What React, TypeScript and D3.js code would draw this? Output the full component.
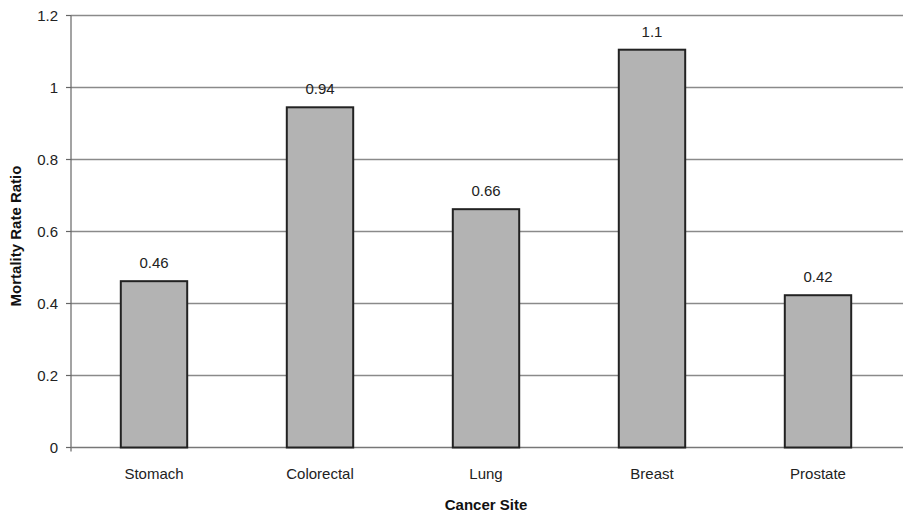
import React from "react";
import * as d3 from "d3";

const categories = ["Stomach", "Colorectal", "Lung", "Breast", "Prostate"];
const values = [0.462, 0.945, 0.662, 1.105, 0.423];
const valueLabels = ["0.46", "0.94", "0.66", "1.1", "0.42"];
const yTicks = [0, 0.2, 0.4, 0.6, 0.8, 1, 1.2];
const yTickLabels = ["0", "0.2", "0.4", "0.6", "0.8", "1", "1.2"];

export default function App() {
  const W = 903, H = 514;
  const left = 71, right = 901, top = 15.5, bottom = 447.5;
  const x = d3.scaleBand().domain(categories).range([left, right]).paddingInner(0.6).paddingOuter(0.3);
  const y = d3.scaleLinear().domain([0, 1.2]).range([bottom, top]);
  const font = "'Liberation Sans', Arial, sans-serif";
  const fs = 15;
  return (
    <svg width={W} height={H} style={{ position: "absolute", left: 0, top: 0 }} fontFamily={font}>
      <rect width={W} height={H} fill="#fff" />
      {yTicks.map((t, i) => (
        <g key={i}>
          {i > 0 && <line x1={left} x2={W} y1={y(t)} y2={y(t)} stroke="#8a8a8a" strokeWidth={1.5} />}
          <line x1={left - 5} x2={left} y1={y(t)} y2={y(t)} stroke="#666" strokeWidth={1.2} />
          <text x={left - 13} y={y(t)} dy="0.36em" textAnchor="end" fontSize={fs} fill="#222">{yTickLabels[i]}</text>
        </g>
      ))}
      <line x1={left} x2={left} y1={top} y2={bottom + 4} stroke="#666" strokeWidth={1.2} />
      <line x1={left} x2={W} y1={bottom} y2={bottom} stroke="#777" strokeWidth={1.5} />
      {categories.map((c, i) => (
        <g key={c}>
          <rect x={x(c)} y={y(values[i])} width={x.bandwidth()} height={bottom - y(values[i])} fill="#b3b3b3" stroke="#222" strokeWidth={2} />
          <text x={(x(c) as number) + x.bandwidth() / 2} y={y(values[i]) - 13} textAnchor="middle" fontSize={fs} fill="#222">{valueLabels[i]}</text>
          <text x={(x(c) as number) + x.bandwidth() / 2} y={479} textAnchor="middle" fontSize={fs} fill="#222">{c}</text>
        </g>
      ))}
      <text x={(left + right) / 2} y={510} textAnchor="middle" fontSize={fs} fontWeight="bold" fill="#111">Cancer Site</text>
      <text transform={`translate(21,236) rotate(-90)`} textAnchor="middle" fontSize={fs} fontWeight="bold" fill="#111">Mortality Rate Ratio</text>
    </svg>
  );
}
